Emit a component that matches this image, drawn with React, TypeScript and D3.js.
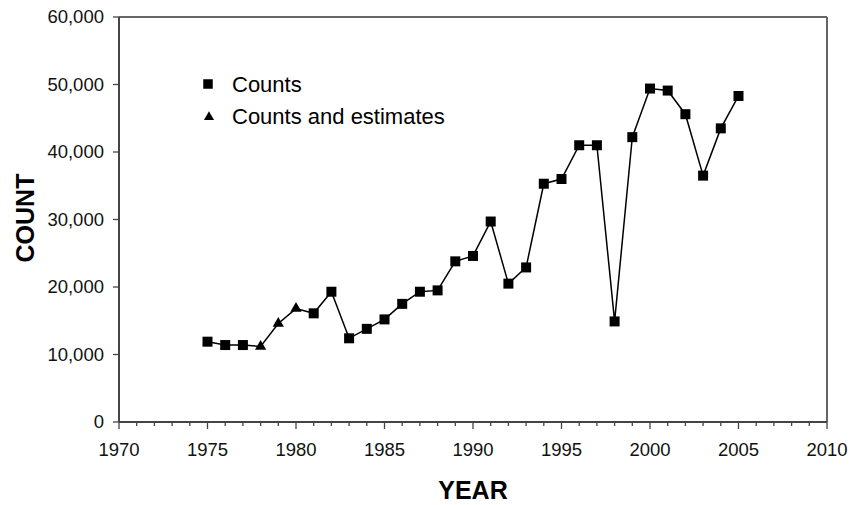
import React from "react";
import * as d3 from "d3";

const years = [1975, 1976, 1977, 1978, 1979, 1980, 1981, 1982, 1983, 1984, 1985, 1986, 1987, 1988, 1989, 1990, 1991, 1992, 1993, 1994, 1995, 1996, 1997, 1998, 1999, 2000, 2001, 2002, 2003, 2004, 2005];
const counts = [11900, 11400, 11400, 11200, 14600, 16800, 16100, 19300, 12400, 13800, 15200, 17500, 19300, 19500, 23800, 24600, 29700, 20500, 22900, 35300, 36000, 41000, 41000, 14900, 42200, 49400, 49100, 45600, 36500, 43500, 48300];
const markerTypes = ["sq", "sq", "sq", "tri", "tri", "tri", "sq", "sq", "sq", "sq", "sq", "sq", "sq", "sq", "sq", "sq", "sq", "sq", "sq", "sq", "sq", "sq", "sq", "sq", "sq", "sq", "sq", "sq", "sq", "sq", "sq"];
const xTicks = [1970, 1975, 1980, 1985, 1990, 1995, 2000, 2005, 2010];
const yTicks = [0, 10000, 20000, 30000, 40000, 50000, 60000];
const legendLabels = ["Counts", "Counts and estimates"];

const W = 852, H = 505;
const left = 119, right = 827, top = 17, bottom = 422;

export default function App() {
  const x = d3.scaleLinear().domain([1970, 2010]).range([left, right]);
  const y = d3.scaleLinear().domain([0, 60000]).range([bottom, top]);
  const line = d3.line<number>().x((_, i) => x(years[i])).y((d) => y(d));
  const minorYears = d3.range(1970, 2011);
  const fmt = d3.format(",");
  const font = "'Liberation Sans', Arial, sans-serif";
  const sq = d3.symbol().type(d3.symbolSquare).size(100)() as string;
  const tri = d3.symbol().type(d3.symbolTriangle).size(55)() as string;
  const axisColor = "#444";

  return (
    <svg width={W} height={H} style={{ position: "absolute", left: 0, top: 0, background: "#fff" }} fontFamily={font}>
      {/* frame */}
      <line x1={left} x2={right} y1={top} y2={top} stroke="#666" strokeWidth={2} />
      <line x1={right} x2={right} y1={top} y2={bottom} stroke="#666" strokeWidth={2} />
      <line x1={left} x2={left} y1={top} y2={bottom} stroke={axisColor} strokeWidth={2} />
      <line x1={left} x2={right} y1={bottom} y2={bottom} stroke={axisColor} strokeWidth={2} />
      {/* x ticks */}
      {minorYears.map((yr) => (
        <line key={"mx" + yr} x1={x(yr)} x2={x(yr)} y1={bottom} y2={bottom + (yr % 5 === 0 ? 7 : 4)} stroke={axisColor} strokeWidth={1.3} />
      ))}
      {xTicks.map((t) => (
        <text key={"xt" + t} x={x(t)} y={456} textAnchor="middle" fontSize={18.5} fill="#111">{t}</text>
      ))}
      {/* y ticks */}
      {yTicks.map((t) => (
        <g key={"yt" + t}>
          <line x1={left - 6} x2={left} y1={y(t)} y2={y(t)} stroke={axisColor} strokeWidth={1.3} />
          <text x={104} y={y(t)} dy="0.35em" textAnchor="end" fontSize={18.5} fill="#111">{fmt(t)}</text>
        </g>
      ))}
      {/* axis titles */}
      <text x={473} y={499} textAnchor="middle" fontSize={25} fontWeight="bold" fill="#000">YEAR</text>
      <text transform={`translate(34,218) rotate(-90)`} textAnchor="middle" fontSize={25} fontWeight="bold" fill="#000">COUNT</text>
      {/* data line */}
      <path d={line(counts) || ""} fill="none" stroke="#000" strokeWidth={1.5} />
      {counts.map((c, i) => (
        <path key={"m" + i} d={markerTypes[i] === "sq" ? sq : tri} transform={`translate(${x(years[i])},${y(c)})`} fill="#000" />
      ))}
      {/* legend */}
      <path d={sq} transform="translate(208,84) scale(0.95)" fill="#000" />
      <text x={232} y={92} fontSize={22} fill="#000">{legendLabels[0]}</text>
      <path d={tri} transform="translate(209,117) scale(0.9)" fill="#000" />
      <text x={232} y={124} fontSize={22} fill="#000">{legendLabels[1]}</text>
    </svg>
  );
}
